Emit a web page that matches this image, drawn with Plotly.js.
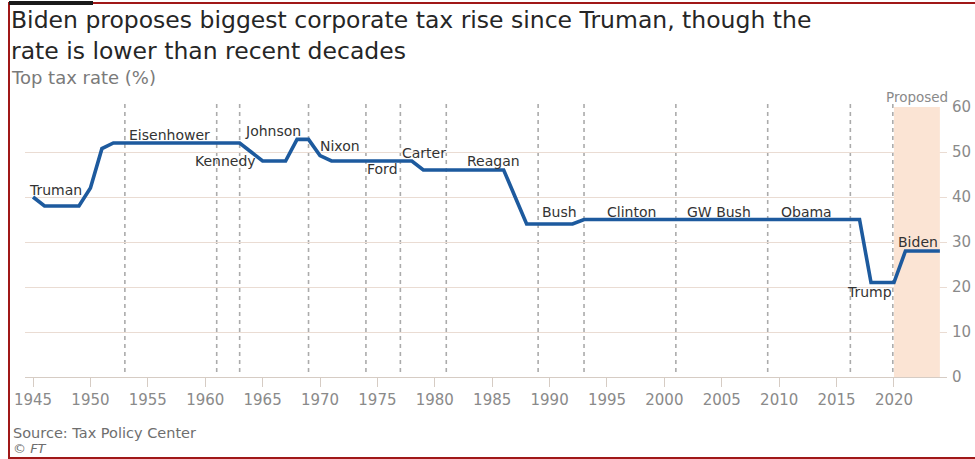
<!DOCTYPE html>
<html>
<head>
<meta charset="utf-8">
<script src="https://cdn.plot.ly/plotly-3.0.1.min.js"></script>
<style>
  html, body { margin: 0; padding: 0; background: #ffffff; }
  #wrap { position: relative; width: 975px; height: 459px; overflow: hidden; }
  #chart { position: absolute; left: 0; top: 0; width: 975px; height: 459px; }
  #frame { position: absolute; left: 8px; top: 2px; width: 980px; height: 453px;
           border-left: 2px solid #a01818; border-top: 2px solid #a01818; border-bottom: 2px solid #a01818;
           pointer-events: none; }
  #bar { position: absolute; left: 9px; top: 1px; width: 84px; height: 4px; background: #1a1a1a; pointer-events: none; }
</style>
</head>
<body>
<div id="wrap">
  <div id="chart"></div>
  <div id="frame"></div>
  <div id="bar"></div>
</div>
<script>
// ---- data ----
const years = [1945,1946,1947,1948,1949,1950,1951,1952,1953,1954,1955,1956,1957,1958,1959,
  1960,1961,1962,1963,1964,1965,1966,1967,1968,1969,1970,1971,1972,1973,1974,1975,1976,1977,
  1978,1979,1980,1981,1982,1983,1984,1985,1986,1987,1988,1989,1990,1991,1992,1993,1994,1995,
  1996,1997,1998,1999,2000,2001,2002,2003,2004,2005,2006,2007,2008,2009,2010,2011,2012,2013,
  2014,2015,2016,2017,2018,2019,2020,2021,2022,2023,2024];
const topRate = [40,38,38,38,38,42,50.75,52,52,52,52,52,52,52,52,
  52,52,52,52,50,48,48,48,52.8,52.8,49.2,48,48,48,48,48,48,48,
  48,46,46,46,46,46,46,46,46,40,34,34,34,34,34,35,35,35,
  35,35,35,35,35,35,35,35,35,35,35,35,35,35,35,35,35,35,
  35,35,35,35,21,21,21,28,28,28,28];
const presidents = ["Truman","Eisenhower","Kennedy","Johnson","Nixon","Ford","Carter","Reagan",
  "Bush","Clinton","GW Bush","Obama","Trump","Biden"];
const termStarts = [1953,1961,1963,1969,1974,1977,1981,1989,1993,2001,2009,2016.2,2019.9];
const proposedSpan = [2020, 2024];
const xTicks = [1945,1950,1955,1960,1965,1970,1975,1980,1985,1990,1995,2000,2005,2010,2015,2020];
const yTicks = [0,10,20,30,40,50,60];

// ---- label placement (layout, not data) ----
const labelPos = {
  "Truman":[1947.0,41.6], "Eisenhower":[1956.9,53.8], "Kennedy":[1961.8,48.0],
  "Johnson":[1965.9,54.7], "Nixon":[1971.7,51.3], "Ford":[1975.4,46.2],
  "Carter":[1979.1,49.8], "Reagan":[1985.1,48.0], "Bush":[1990.9,36.7],
  "Clinton":[1997.1,36.7], "GW Bush":[2004.8,36.7], "Obama":[2012.4,36.7],
  "Trump":[2017.9,18.9], "Biden":[2022.1,30.0]
};

const FONT = "DejaVu Sans, Noto Sans, sans-serif";
// plot area in pixels: x 25..947, y 107..377
const L = 25, R = 947, T = 107, B = 377;
const px = v => (v - L) / (R - L);
const py = v => (B - v) / (B - T);

const shapes = [];
shapes.push({type:'rect', xref:'x', yref:'y', x0:proposedSpan[0], x1:proposedSpan[1], y0:0, y1:60,
  fillcolor:'#fbe4d4', line:{width:0}, layer:'between'});
termStarts.forEach(t => shapes.push({type:'line', xref:'x', yref:'paper', x0:t, x1:t,
  y0:py(372), y1:py(104), line:{color:'#ababab', width:1.6, dash:'4px,4px'}, layer:'between'}));

const annotations = presidents.map(p => ({
  text:p, x:labelPos[p][0], y:labelPos[p][1], xref:'x', yref:'y', showarrow:false,
  xanchor:'center', yanchor:'middle', font:{family:FONT, size:14, color:'#333333'}
}));
annotations.push({text:'Proposed', x:2022, y:py(97), xref:'x', yref:'paper', showarrow:false,
  xanchor:'center', yanchor:'middle', font:{family:FONT, size:13.5, color:'#8a8a8a'}});
annotations.push({text:'Biden proposes biggest corporate tax rise since Truman, though the<br>rate is lower than recent decades',
  x:px(9), y:py(36), xref:'paper', yref:'paper', showarrow:false, xanchor:'left', yanchor:'middle',
  align:'left', font:{family:FONT, size:23.5, color:'#262626'}});
annotations.push({text:'Top tax rate (%)',
  x:px(9), y:py(77.5), xref:'paper', yref:'paper', showarrow:false, xanchor:'left', yanchor:'middle',
  font:{family:FONT, size:18, color:'#7a7a7a'}});
annotations.push({text:'Source: Tax Policy Center',
  x:px(11), y:py(433), xref:'paper', yref:'paper', showarrow:false, xanchor:'left', yanchor:'middle',
  font:{family:FONT, size:14.5, color:'#6e6e6e'}});
annotations.push({text:'<i>© FT</i>',
  x:px(11), y:py(448), xref:'paper', yref:'paper', showarrow:false, xanchor:'left', yanchor:'middle',
  font:{family:FONT, size:13, color:'#6e6e6e'}});

const trace = {
  x: years, y: topRate, type:'scatter', mode:'lines',
  line:{color:'#1d5a9e', width:3.6, shape:'linear'}, hoverinfo:'skip', showlegend:false
};

const layout = {
  width:975, height:459,
  margin:{l:L, r:975-R, t:T, b:459-B, pad:0},
  paper_bgcolor:'#ffffff', plot_bgcolor:'#ffffff',
  showlegend:false,
  xaxis:{range:[1944.3, 2024.62], tickvals:xTicks, ticktext:xTicks.map(String),
    ticks:'outside', ticklen:9, tickwidth:1, tickcolor:'#d6ccc4',
    showline:true, linecolor:'#d6ccc4', linewidth:1, showgrid:false, zeroline:false,
    tickfont:{family:FONT, size:15, color:'#8a8a8a'}, fixedrange:true},
  yaxis:{range:[0,60], side:'right', tickvals:yTicks, ticktext:yTicks.map(String),
    showgrid:true, gridcolor:'#eadcd3', gridwidth:1, zeroline:false, showline:false,
    ticks:'', ticklabelstandoff:4,
    tickfont:{family:FONT, size:15, color:'#8a8a8a'}, fixedrange:true},
  shapes: shapes,
  annotations: annotations
};

Plotly.newPlot('chart', [trace], layout, {displayModeBar:false, staticPlot:true});
</script>
</body>
</html>
